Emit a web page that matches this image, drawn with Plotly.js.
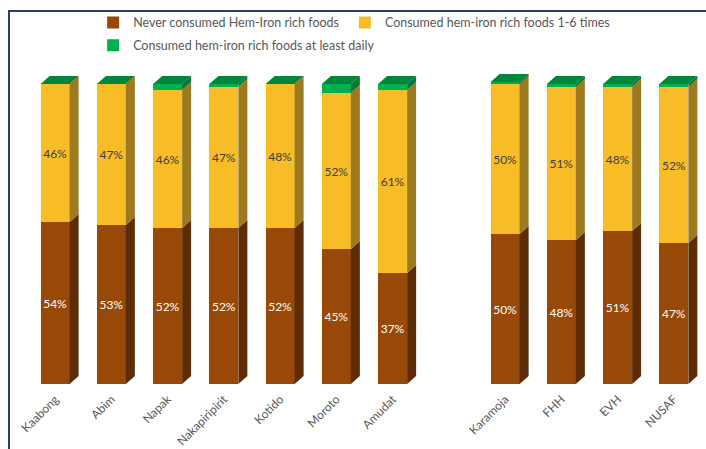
<!DOCTYPE html>
<html><head><meta charset="utf-8">
<script src="https://cdn.plot.ly/plotly-3.0.1.min.js"></script>
<style>
body{margin:0;background:#fff;overflow:hidden}
#chart{width:706px;height:449px;position:absolute;left:0;top:0}
#frame{position:absolute;left:8px;top:10px;width:760px;height:480px;border-left:2px solid #24406e;border-top:2px solid #24406e;pointer-events:none}
</style>
</head><body><div id="chart"></div><div id="frame"></div>
<script>
// ---- data ----
const districts = ['Kaabong','Abim','Napak','Nakapiripirit','Kotido','Moroto','Amudat'];
const aggregates = ['Karamoja','FHH','EVH','NUSAF'];
const categories = districts.concat(aggregates);
const neverConsumed = [54,53,52,52,52,45,37,50,48,51,47];
const consumed1to6 = [46,47,46,47,48,52,61,50,51,48,52];
const consumedDaily = [0,0,2,1,0,3,2,0.7,1,1,1];
const seriesNames = ['Never consumed Hem-Iron rich foods','Consumed hem-iron rich foods 1-6 times','Consumed hem-iron rich foods at least daily'];

// ---- styling ----
const frontCol = ['#984807','#F8BC27','#00B050'];
const sideCol  = ['#5E2B03','#9E7A1D','#007A36'];
const topCol = '#00853D';
const W = 0.515, DX = 0.16, DY = 2.67;
const FONT = 'Lato, "Open Sans", sans-serif';
const legendIds = ['legend','legend2','legend3'];

// x positions: one empty slot between the two groups
const xPos = categories.map((c,i) => i < districts.length ? i : i + 1);
const series = [neverConsumed, consumed1to6, consumedDaily];

const traces = [];
series.forEach((vals, s) => {
  traces.push({
    type:'bar', x:xPos, y:vals, name:seriesNames[s], width:W,
    legend: legendIds[s],
    marker:{color:frontCol[s], line:{width:0}},
    texttemplate: s === 2 ? '' : '%{y:.0f}%',
    textposition: s === 2 ? 'none' : 'inside',
    insidetextanchor:'middle', textangle:0, constraintext:'none',
    textfont:{family:FONT, size:12, color: s === 0 ? '#ffffff' : '#404040'},
    hoverinfo:'name+y'
  });
});

// side faces (3D depth) computed from the stacked data
const base = xPos.map(() => 0);
series.forEach((vals, s) => {
  const xs = [], ys = [];
  vals.forEach((v, i) => {
    const y0 = base[i], y1 = base[i] + v, xr = xPos[i] + W/2;
    if (v > 0) {
      xs.push(xr, xr+DX, xr+DX, xr, xr, null);
      ys.push(y0, y0+DY, y1+DY, y1, y0, null);
    }
    base[i] = y1;
  });
  traces.push({type:'scatter', mode:'lines', x:xs, y:ys, fill:'toself', fillcolor:sideCol[s],
    line:{width:0, color:sideCol[s]}, showlegend:false, hoverinfo:'skip'});
});
// top faces
{
  const xs = [], ys = [];
  xPos.forEach((x, i) => {
    const T = base[i], xl = x - W/2, xr = x + W/2;
    xs.push(xl, xr, xr+DX, xl+DX, xl, null);
    ys.push(T, T, T+DY, T+DY, T, null);
  });
  traces.push({type:'scatter', mode:'lines', x:xs, y:ys, fill:'toself', fillcolor:topCol,
    line:{width:0}, showlegend:false, hoverinfo:'skip'});
}

const legFont = {family:FONT, size:12.5, color:'#595959'};
const legBase = {orientation:'h', xanchor:'left', yanchor:'top', font:legFont, bgcolor:'rgba(0,0,0,0)'};

const layout = {
  width:706, height:449,
  margin:{l:27, r:4, t:54, b:65},
  paper_bgcolor:'rgba(0,0,0,0)', plot_bgcolor:'rgba(0,0,0,0)',
  barmode:'stack',
  font:{family:FONT, color:'#595959'},
  xaxis:{type:'linear', range:[-0.5, 11.5], tickvals:xPos, ticktext:categories, tickangle:-45,
    tickfont:{family:FONT, size:12, color:'#595959'}, ticklabelstandoff:5,
    showgrid:false, zeroline:false, showline:false, ticks:''},
  yaxis:{range:[0,110], visible:false, showgrid:false, zeroline:false},
  legend: Object.assign({}, legBase, {x:0.098, y:1.14}),
  legend2: Object.assign({}, legBase, {x:0.471, y:1.14}),
  legend3: Object.assign({}, legBase, {x:0.098, y:1.071}),
  showlegend:true
};

Plotly.newPlot('chart', traces, layout, {displayModeBar:false, staticPlot:true});
</script>
</body></html>
